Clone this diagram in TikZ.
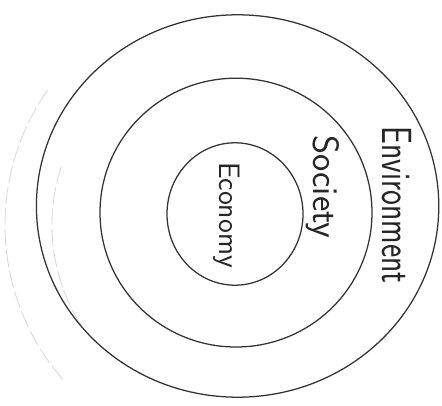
\documentclass[tikz,border=0pt]{standalone}
\usepackage{graphicx}
\usetikzlibrary{positioning}

\tikzset{
  ring/.style={line width=0.9pt, black!80, line cap=round},
  faint/.style={line width=0.6pt, black!15, dash pattern=on 12pt off 3pt},
  word/.style={rotate=-90, inner sep=0pt, font=\sffamily, text=black!85}
}
\newcommand{\squeeze}[2]{\scalebox{#1}[1]{#2}}

\begin{document}
\begin{tikzpicture}[line join=round]
    \useasboundingbox (0,0) rectangle (11.05,10.125);
    % faint marks from the back of the page
    \draw[faint] (6.0,4.5) ++(145:5.875) arc[start angle=145, end angle=222, radius=5.875];
    \draw[faint] (6.0,4.5) ++(162:4.7) arc[start angle=162, end angle=212, radius=4.7];
    % the three rings
    \draw[ring] (5.94,4.975) ellipse[x radius=5.03, y radius=4.78];
    \draw[ring] (5.9,4.81) ellipse[x radius=3.4, y radius=3.36];
    \draw[ring] (5.875,4.775) ellipse[x radius=1.7, y radius=1.78];
    % labels
    \node[word, font=\sffamily\fontsize{21}{21}\selectfont] (economy) at (5.675,4.75) {Economy};
    \node[word, font=\sffamily\fontsize{26}{26}\selectfont] (society) at (8.075,5.45) {Society};
    \node[word, font=\sffamily\fontsize{30}{30}\selectfont] (environment) at (9.92,5.0) {\squeeze{0.75}{Environment}};
\end{tikzpicture}
\end{document}
